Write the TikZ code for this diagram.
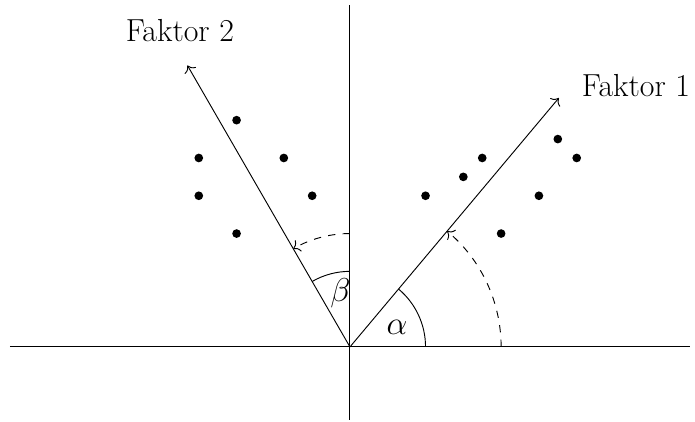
\documentclass[tikz,border=0pt]{standalone}
\usepackage{tikz}
\usetikzlibrary{arrows.meta}

\tikzset{
  axis/.style={line width=0.75pt},
  factor/.style={line width=0.7pt, ->},
  swing/.style={line width=0.7pt, dash pattern=on 5.5pt off 5.5pt, ->},
  score/.style={fill=black},
  biglabel/.style={font=\fontsize{24}{28}\selectfont, inner sep=0pt}
}

\begin{document}
\begin{tikzpicture}[>={To[scale=1.5]}]
  \useasboundingbox (-9.26,-1.96) rectangle (9.13,9.18);
  \coordinate (O) at (0,0);
  \coordinate (xl) at (-9,0);
  \coordinate (xr) at (9,0);
  \coordinate (yb) at (0,-1.93);
  \coordinate (yt) at (0,9.05);
  \coordinate (f1) at (50:8.6);
  \coordinate (f2) at (120:8.6);
  \draw[axis] (xl) -- (xr);
  \draw[axis] (yb) -- (yt);
  \draw[factor] (O) -- (f1);
  \draw[factor] (O) -- (f2);
  \node[biglabel, anchor=base west] (lf1) at (6.13,6.62) {Faktor 1};
  \node[biglabel, anchor=base] (lf2) at (-4.5,8.07) {Faktor 2};
  % angles
  \draw[line width=0.7pt] (2,0) arc (0:50:2);
  \draw[line width=0.7pt] (0,2) arc (90:120:2);
  \draw[swing] (4,0) arc (0:50:4);
  \draw[swing] (0,3) arc (90:120:3);
  \node[font=\fontsize{24}{28}\selectfont] (alpha) at (23:1.35) {$\alpha$};
  \node[font=\fontsize{24}{28}\selectfont] (beta) at (100:1.45) {$\beta$};
  % scores
  \foreach \p in {(2,4),(3,4.5),(3.5,5),(4,3),(5,4),(5.5,5.5),(6,5),
                  (-3,6),(-4,5),(-1.75,5),(-1,4),(-4,4),(-3,3)}
    \fill[score] \p circle (0.115);
\end{tikzpicture}
\end{document}
